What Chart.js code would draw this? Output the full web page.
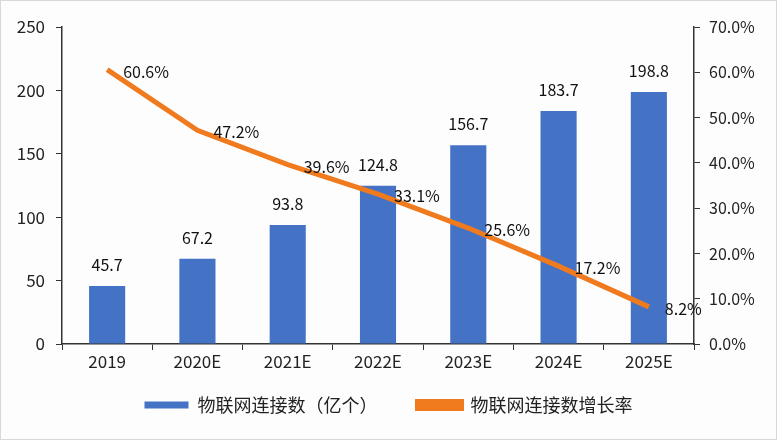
<!DOCTYPE html>
<html>
<head>
<meta charset="utf-8">
<script src="https://cdn.jsdelivr.net/npm/chart.js@4/dist/chart.umd.min.js"></script>
<style>
  html, body { margin: 0; padding: 0; background: #fff; }
  #wrap { width: 775px; height: 438px; border: 1px solid #d8d8dc; background: #fdfdfe; }
</style>
</head>
<body>
<div id="wrap"><canvas id="myChart" width="775" height="438"></canvas></div>
<script>
const years = ["2019", "2020E", "2021E", "2022E", "2023E", "2024E", "2025E"];
const connections = [45.7, 67.2, 93.8, 124.8, 156.7, 183.7, 198.8];
const growthRate = [60.6, 47.2, 39.6, 33.1, 25.6, 17.2, 8.2];
const barLabel = "物联网连接数（亿个）";
const lineLabel = "物联网连接数增长率";
const blue = "#4472C4";
const orange = "#F07A1E";
const fontFamily = "'Noto Sans CJK SC', 'Noto Sans', sans-serif";

// value labels over the bars and next to the line points
const valueLabels = {
    id: "valueLabels",
    afterDatasetsDraw(chart) {
        const ctx = chart.ctx;
        ctx.save();
        ctx.font = "16px " + fontFamily;
        ctx.fillStyle = "#111";
        let bars = chart.getDatasetMeta(1).data;
        ctx.textAlign = "center";
        ctx.textBaseline = "bottom";
        for (let i = 0; i < bars.length; i++) {
            ctx.fillText(connections[i].toFixed(1), bars[i].x, bars[i].y - 13);
        }
        let pts = chart.getDatasetMeta(0).data;
        ctx.textAlign = "left";
        ctx.textBaseline = "middle";
        for (let i = 0; i < pts.length; i++) {
            ctx.fillText(growthRate[i].toFixed(1) + "%", pts[i].x + 16, pts[i].y + 2);
        }
        ctx.restore();
    }
};

// legend box taller than its items so the x axis sits where it should
const legendHeight = {
    id: "legendHeight",
    beforeInit(chart) {
        const fit = chart.legend.fit;
        chart.legend.fit = function () {
            fit.call(this);
            this.height = 83;
        };
    }
};

let canvas = document.getElementById("myChart");
let chartObj = new Chart(canvas, {
    type: "bar",
    data: {
        labels: years,
        datasets: [{
            type: "line",
            label: lineLabel,
            data: growthRate,
            yAxisID: "y1",
            borderColor: orange,
            backgroundColor: orange,
            borderWidth: 5,
            pointRadius: 0,
            tension: 0,
            order: 0
        }, {
            type: "bar",
            label: barLabel,
            data: connections,
            yAxisID: "y",
            backgroundColor: blue,
            categoryPercentage: 1,
            barPercentage: 0.4,
            order: 1
        }]
    },
    options: {
        responsive: false,
        animation: false,
        layout: { padding: { top: 26, left: 0, right: 0, bottom: 0 } },
        plugins: {
            tooltip: { enabled: false },
            legend: {
                position: "bottom",
                reverse: true,
                labels: {
                    font: { size: 18, family: fontFamily },
                    color: "#222",
                    boxWidth: 44,
                    boxHeight: 7,
                    padding: 40
                }
            }
        },
        scales: {
            x: {
                grid: { drawOnChartArea: false, color: "#333", tickLength: 6, offset: true },
                border: { color: "#333", width: 1.5 },
                ticks: { color: "#222", font: { size: 17, family: fontFamily }, padding: 1 },
                afterFit: (scale) => {
                    scale.height = 12;
                    // labels hang below the short box, so don't clip them to it
                    scale._computeLabelArea = () => undefined;
                }
            },
            y: {
                position: "left",
                min: 0,
                max: 250,
                ticks: { stepSize: 50, color: "#222", font: { size: 17, family: fontFamily }, padding: 11 },
                grid: { drawOnChartArea: false, color: "#333", tickLength: 6 },
                border: { color: "#333", width: 1.5 },
                afterFit: (scale) => { scale.width = 61; }
            },
            y1: {
                position: "right",
                min: 0,
                max: 70,
                ticks: {
                    stepSize: 10,
                    color: "#222",
                    font: { size: 16, family: fontFamily },
                    padding: 9,
                    callback: (v) => v.toFixed(1) + "%"
                },
                grid: { drawOnChartArea: false, color: "#333", tickLength: 6 },
                border: { color: "#333", width: 1.5 },
                afterFit: (scale) => { scale.width = 82; }
            }
        }
    },
    plugins: [valueLabels, legendHeight]
});
</script>
</body>
</html>
